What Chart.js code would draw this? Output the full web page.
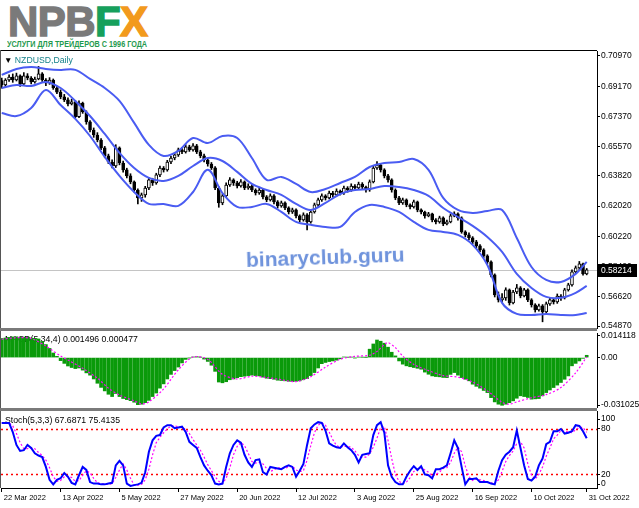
<!DOCTYPE html>
<html><head><meta charset="utf-8">
<script src="https://cdn.jsdelivr.net/npm/chart.js@4.4.0/dist/chart.umd.min.js"></script>
<style>
html,body{margin:0;padding:0;background:#fff;width:639px;height:508px;overflow:hidden;font-family:'Liberation Sans',Arial,sans-serif;}
.abs{position:absolute;white-space:nowrap;}
canvas{position:absolute;left:0;}
</style></head><body>
<div class="abs" style="left:8px;top:1px;font:bold 42px/42px 'Liberation Sans';letter-spacing:-0.6px;"><span style="color:#7a7a7a;-webkit-text-stroke:1.4px #7a7a7a">NPB</span><span style="color:#16a05c;-webkit-text-stroke:1.4px #16a05c">F</span><span style="color:#f29a1d;-webkit-text-stroke:1.4px #f29a1d">X</span></div>
<div class="abs" id="slogan" style="left:7px;top:40px;font:bold 9px/9px 'Liberation Sans';color:#1f9a4e;transform-origin:0 0;">УСЛУГИ ДЛЯ ТРЕЙДЕРОВ С 1996 ГОДА</div>
<canvas id="cMain" width="639" height="280" style="top:50px"></canvas>
<canvas id="cMacd" width="639" height="80" style="top:331px"></canvas>
<canvas id="cStoch" width="639" height="99" style="top:409px"></canvas>
<div class="abs" style="left:0;top:50px;width:597px;height:1px;background:#000"></div>
<div class="abs" style="left:0;top:50px;width:1px;height:438px;background:#555"></div>
<div class="abs" style="left:0;top:328px;width:597px;height:3px;background:#7a7a7a"></div>
<div class="abs" style="left:0;top:408px;width:597px;height:3px;background:#7a7a7a"></div>
<div class="abs" style="left:4px;top:56px;font:8.7px/8.7px 'Liberation Sans';color:#000;"><span style="font-size:8.5px">▼</span> <span style="color:#14808a">NZDUSD,Daily</span></div>
<div class="abs" style="left:246px;top:249px;font:bold 21px/21px 'Liberation Sans';color:#6f93dc;transform:rotate(-2deg);transform-origin:0 50%;">binaryclub.guru</div>
<script>
// ---------- data ----------
const opens = [
0.6950,0.6924,0.6954,0.6972,0.6954,0.6978,0.6930,0.6978,0.6966,0.6942,
0.6960,0.6990,0.6954,0.6936,0.6954,0.6906,0.6882,0.6853,0.6835,0.6811,
0.6823,0.6735,0.6817,0.6763,0.6704,0.6656,0.6626,0.6596,0.6549,0.6501,
0.6465,0.6441,0.6549,0.6459,0.6418,0.6382,0.6346,0.6298,0.6251,0.6269,
0.6310,0.6358,0.6340,0.6388,0.6429,0.6418,0.6465,0.6489,0.6507,0.6537,
0.6525,0.6555,0.6537,0.6561,0.6525,0.6501,0.6477,0.6453,0.6430,0.6310,
0.6221,0.6263,0.6328,0.6358,0.6340,0.6322,0.6346,0.6310,0.6322,0.6298,
0.6280,0.6298,0.6257,0.6239,0.6263,0.6227,0.6203,0.6221,0.6191,0.6167,
0.6179,0.6144,0.6120,0.6150,0.6108,0.6167,0.6209,0.6239,0.6263,0.6251,
0.6280,0.6269,0.6292,0.6280,0.6310,0.6298,0.6322,0.6310,0.6334,0.6316,
0.6298,0.6346,0.6429,0.6447,0.6418,0.6382,0.6358,0.6298,0.6251,0.6221,
0.6239,0.6209,0.6197,0.6227,0.6179,0.6167,0.6144,0.6156,0.6120,0.6108,
0.6132,0.6096,0.6108,0.6144,0.6156,0.6132,0.6048,0.6030,0.6013,0.5989,
0.5965,0.5941,0.5905,0.5869,0.5792,0.5673,0.5643,0.5655,0.5702,0.5625,
0.5690,0.5714,0.5666,0.5702,0.5643,0.5613,0.5583,0.5607,0.5571,0.5619,
0.5643,0.5631,0.5666,0.5655,0.5702,0.5732,0.5810,0.5834,0.5857,0.5798];
const highs = [
0.6965,0.6962,0.6985,0.6990,0.6995,0.6985,0.6998,0.6992,0.6975,0.6972,
0.7035,0.6998,0.6962,0.6968,0.6960,0.6918,0.6895,0.6868,0.6848,0.6840,
0.6832,0.6830,0.6822,0.6770,0.6712,0.6668,0.6640,0.6605,0.6558,0.6512,
0.6478,0.6568,0.6555,0.6470,0.6428,0.6395,0.6352,0.6305,0.6280,0.6320,
0.6372,0.6368,0.6398,0.6440,0.6438,0.6475,0.6498,0.6518,0.6548,0.6552,
0.6568,0.6565,0.6575,0.6570,0.6535,0.6512,0.6488,0.6462,0.6438,0.6318,
0.6275,0.6340,0.6372,0.6365,0.6350,0.6360,0.6352,0.6335,0.6330,0.6305,
0.6310,0.6302,0.6265,0.6275,0.6270,0.6235,0.6232,0.6228,0.6198,0.6190,
0.6185,0.6150,0.6162,0.6158,0.6175,0.6220,0.6250,0.6275,0.6270,0.6292,
0.6290,0.6305,0.6298,0.6322,0.6318,0.6335,0.6330,0.6345,0.6342,0.6322,
0.6358,0.6440,0.6468,0.6455,0.6425,0.6392,0.6365,0.6305,0.6260,0.6250,
0.6245,0.6215,0.6238,0.6232,0.6185,0.6172,0.6165,0.6160,0.6128,0.6142,
0.6138,0.6118,0.6155,0.6168,0.6162,0.6138,0.6055,0.6042,0.6020,0.5998,
0.5972,0.5948,0.5912,0.5875,0.5798,0.5690,0.5680,0.5715,0.5708,0.5700,
0.5735,0.5722,0.5712,0.5708,0.5650,0.5620,0.5618,0.5615,0.5630,0.5655,
0.5650,0.5678,0.5675,0.5712,0.5742,0.5822,0.5845,0.5872,0.5862,0.5830];
const lows = [
0.6905,0.6915,0.6945,0.6940,0.6948,0.6915,0.6922,0.6955,0.6930,0.6935,
0.6955,0.6945,0.6920,0.6928,0.6898,0.6872,0.6842,0.6825,0.6800,0.6805,
0.6728,0.6730,0.6755,0.6690,0.6645,0.6612,0.6585,0.6538,0.6490,0.6455,
0.6430,0.6432,0.6448,0.6405,0.6370,0.6335,0.6285,0.6215,0.6230,0.6255,
0.6300,0.6325,0.6332,0.6378,0.6405,0.6410,0.6455,0.6478,0.6498,0.6515,
0.6518,0.6528,0.6530,0.6515,0.6490,0.6465,0.6440,0.6420,0.6300,0.6195,
0.6210,0.6255,0.6320,0.6325,0.6310,0.6315,0.6300,0.6302,0.6288,0.6268,
0.6272,0.6245,0.6228,0.6232,0.6215,0.6190,0.6195,0.6180,0.6155,0.6158,
0.6132,0.6108,0.6112,0.6060,0.6100,0.6160,0.6200,0.6230,0.6238,0.6245,
0.6255,0.6262,0.6268,0.6272,0.6285,0.6290,0.6298,0.6302,0.6305,0.6285,
0.6290,0.6340,0.6420,0.6405,0.6370,0.6345,0.6285,0.6240,0.6210,0.6212,
0.6198,0.6185,0.6190,0.6168,0.6155,0.6130,0.6138,0.6108,0.6095,0.6100,
0.6085,0.6090,0.6102,0.6138,0.6118,0.6040,0.6018,0.6000,0.5978,0.5952,
0.5930,0.5895,0.5858,0.5780,0.5660,0.5630,0.5628,0.5640,0.5612,0.5618,
0.5680,0.5655,0.5660,0.5632,0.5600,0.5570,0.5575,0.5512,0.5560,0.5610,
0.5618,0.5622,0.5640,0.5648,0.5695,0.5725,0.5800,0.5820,0.5790,0.5792];
const closes = [
0.6924,0.6954,0.6972,0.6954,0.6978,0.6930,0.6978,0.6966,0.6942,0.6960,
0.6990,0.6954,0.6936,0.6954,0.6906,0.6882,0.6853,0.6835,0.6811,0.6823,
0.6735,0.6817,0.6763,0.6704,0.6656,0.6626,0.6596,0.6549,0.6501,0.6465,
0.6441,0.6549,0.6459,0.6418,0.6382,0.6346,0.6298,0.6251,0.6269,0.6310,
0.6358,0.6340,0.6388,0.6429,0.6418,0.6465,0.6489,0.6507,0.6537,0.6525,
0.6555,0.6537,0.6561,0.6525,0.6501,0.6477,0.6453,0.6430,0.6310,0.6221,
0.6263,0.6328,0.6358,0.6340,0.6322,0.6346,0.6310,0.6322,0.6298,0.6280,
0.6298,0.6257,0.6239,0.6263,0.6227,0.6203,0.6221,0.6191,0.6167,0.6179,
0.6144,0.6120,0.6150,0.6108,0.6167,0.6209,0.6239,0.6263,0.6251,0.6280,
0.6269,0.6292,0.6280,0.6310,0.6298,0.6322,0.6310,0.6334,0.6316,0.6298,
0.6346,0.6429,0.6447,0.6418,0.6382,0.6358,0.6298,0.6251,0.6221,0.6239,
0.6209,0.6197,0.6227,0.6179,0.6167,0.6144,0.6156,0.6120,0.6108,0.6132,
0.6096,0.6108,0.6144,0.6156,0.6132,0.6048,0.6030,0.6013,0.5989,0.5965,
0.5941,0.5905,0.5869,0.5792,0.5673,0.5643,0.5655,0.5702,0.5625,0.5690,
0.5714,0.5666,0.5702,0.5643,0.5613,0.5583,0.5607,0.5571,0.5619,0.5643,
0.5631,0.5666,0.5655,0.5702,0.5732,0.5810,0.5834,0.5857,0.5798,0.58214];

const bandIdx = [0,4,8,12,16,20,24,28,32,36,40,44,48,52,56,60,64,68,72,76,80,84,88,92,96,100,104,108,112,116,120,124,128,132,136,140,144,148,152,156,159];
const bbUpper = [0.6984,0.7020,0.7031,0.7020,0.7014,0.7014,0.6960,0.6906,0.6829,0.6698,0.6567,0.6501,0.6531,0.6608,0.6578,0.6620,0.6608,0.6489,0.6358,0.6376,0.6334,0.6286,0.6304,0.6340,0.6376,0.6435,0.6459,0.6465,0.6483,0.6418,0.6251,0.6179,0.6161,0.6173,0.6179,0.6012,0.5839,0.5762,0.5750,0.5798,0.5869];
const bbMiddle = [0.6906,0.6924,0.6918,0.6942,0.6906,0.6829,0.6739,0.6632,0.6519,0.6429,0.6370,0.6352,0.6382,0.6441,0.6489,0.6471,0.6406,0.6334,0.6298,0.6269,0.6215,0.6179,0.6221,0.6274,0.6298,0.6304,0.6322,0.6316,0.6298,0.6263,0.6191,0.6137,0.6084,0.6018,0.5929,0.5798,0.5714,0.5661,0.5655,0.5685,0.5726];
const bbLower = [0.6757,0.6739,0.6787,0.6894,0.6805,0.6722,0.6620,0.6495,0.6382,0.6286,0.6215,0.6215,0.6203,0.6286,0.6418,0.6280,0.6197,0.6197,0.6215,0.6167,0.6108,0.6090,0.6078,0.6078,0.6167,0.6209,0.6197,0.6167,0.6108,0.6060,0.6048,0.6030,0.5971,0.5851,0.5625,0.5559,0.5553,0.5559,0.5553,0.5553,0.5565];

const macdHist = [
0.0125,0.0128,0.0132,0.0135,0.0136,0.0132,0.0134,0.0133,0.0128,0.0126,
0.0122,0.0105,0.0085,0.0060,0.0030,0.0008,-0.0020,-0.0038,-0.0055,-0.0065,
-0.0072,-0.0068,-0.0082,-0.0100,-0.0115,-0.0140,-0.0168,-0.0195,-0.0218,-0.0240,
-0.0255,-0.0235,-0.0255,-0.0268,-0.0275,-0.0282,-0.0292,-0.0308,-0.0305,-0.0295,
-0.0280,-0.0255,-0.0232,-0.0200,-0.0172,-0.0140,-0.0110,-0.0085,-0.0062,-0.0035,
-0.0012,-0.0002,0.0004,0.0006,0.0002,-0.0010,-0.0025,-0.0050,-0.0090,-0.0160,
-0.0165,-0.0158,-0.0145,-0.0140,-0.0132,-0.0125,-0.0122,-0.0118,-0.0115,-0.0118,
-0.0120,-0.0128,-0.0135,-0.0138,-0.0142,-0.0148,-0.0150,-0.0152,-0.0155,-0.0157,
-0.0155,-0.0152,-0.0145,-0.0138,-0.0118,-0.0098,-0.0068,-0.0040,-0.0032,-0.0026,
-0.0022,-0.0017,-0.0008,0.0004,0.0002,0.0003,-0.0002,0.0003,0.0002,0.0001,
0.0055,0.0089,0.0115,0.0107,0.0094,0.0068,0.0035,0.0011,-0.0022,-0.0043,
-0.0054,-0.0060,-0.0065,-0.0070,-0.0076,-0.0095,-0.0109,-0.0120,-0.0124,-0.0126,
-0.0130,-0.0131,-0.0110,-0.0098,-0.0115,-0.0131,-0.0142,-0.0152,-0.0174,-0.0188,
-0.0200,-0.0215,-0.0229,-0.0262,-0.0290,-0.0305,-0.0312,-0.0305,-0.0295,-0.0283,
-0.0266,-0.0250,-0.0255,-0.0261,-0.0272,-0.0270,-0.0268,-0.0250,-0.0229,-0.0212,
-0.0196,-0.0180,-0.0163,-0.0142,-0.0120,-0.0054,-0.0038,-0.0022,-0.0005,0.0015];
const macdSigIdx = [0,4,8,12,16,18,22,26,29,32,36,38,40,44,48,52,56,60,64,68,72,76,80,84,88,92,96,100,102,104,105,107,109,112,116,120,124,128,132,136,138,140,144,148,152,156,159];
const macdSignal = [0.0120,0.0130,0.0125,0.0075,0.0010,-0.0016,-0.0070,-0.0135,-0.0200,-0.0245,-0.0283,-0.0303,-0.0290,-0.0205,-0.0080,0.0004,-0.0012,-0.0110,-0.0140,-0.0122,-0.0130,-0.0145,-0.0157,-0.0125,-0.0062,-0.0011,0.0008,0.0015,0.0040,0.0085,0.0098,0.0065,0.0010,-0.0045,-0.0085,-0.0118,-0.0128,-0.0160,-0.0218,-0.0293,-0.0305,-0.0290,-0.0263,-0.0242,-0.0196,-0.0100,0.0005];

const stochMain = [
88,88,88,76,59,51,52,59,55,48, 45,43,30,13,7,13,15,22,17,9,
7,19,30,26,10,8,8,7,7,8, 9,32,38,32,8,5,6,7,9,23,
50,65,71,72,82,85,85,81,82,83, 76,63,59,55,43,32,25,19,8,7,
8,30,48,59,65,62,46,36,30,39, 40,23,20,30,29,28,27,30,32,30,
17,25,34,59,81,86,89,88,78,61, 58,56,55,61,56,52,46,36,46,47,
48,72,85,89,75,32,17,10,7,7, 17,25,31,26,31,20,19,15,27,27,
29,32,48,65,55,30,7,14,14,15, 10,10,10,8,7,25,39,46,50,56,
78,55,32,14,12,17,32,41,60,63, 77,77,80,74,75,77,85,84,77,67.6871];
const stochSignal = [
88,88,88,84,74,62,54,54,55,54, 49,45,39,29,17,11,12,17,18,16,
11,12,19,25,22,15,9,8,7,7, 8,16,26,34,26,15,6,6,7,13,
27,46,62,69,75,80,84,84,83,82, 80,74,66,59,52,43,33,25,17,11,
8,15,29,46,57,62,58,48,37,35, 36,34,28,24,26,29,28,28,30,31,
26,24,25,39,58,75,85,88,85,76, 66,58,56,57,57,56,51,45,43,43,
47,56,68,82,83,65,41,20,11,8, 10,16,24,27,29,26,23,18,20,23,
28,29,36,48,56,50,31,17,12,14, 13,12,10,9,8,13,24,37,45,51,
61,63,55,34,19,14,20,30,44,55, 67,72,78,77,76,75,79,82,82,75.4135];

const priceTicks = [0.70970,0.69170,0.67370,0.65570,0.63820,0.62020,0.60220,0.58420,0.56620,0.54870];
const priceTickLabels = ['0.70970','0.69170','0.67370','0.65570','0.63820','0.62020','0.60220','0.58420','0.56620','0.54870'];
const macdTicks = [0.014118, 0, -0.031025];
const macdTickLabels = ['0.014118','0.00','-0.031025'];
const stochTicks = [100, 80, 20, 0];
const stochTickLabels = ['100','80','20','0'];
const stochLevels = [80, 20];
const dateTickBars = [0,16,32,48,64,80,96,112,128,144,159];
const dateTickLabels = ['22 Mar 2022','13 Apr 2022','5 May 2022','27 May 2022','20 Jun 2022','12 Jul 2022','3 Aug 2022','25 Aug 2022','16 Sep 2022','10 Oct 2022','31 Oct 2022'];
const lastPrice = 0.58214, lastPriceLabel = '0.58214';
const macdTitle = 'MACD(5,34,4) 0.001496 0.000477';
const stochTitle = 'Stoch(5,3,3) 67.6871 75.4135';

// ---------- layout / style ----------
const FONT = "'Liberation Sans', Arial, sans-serif";
Chart.defaults.font.family = FONT;
Chart.defaults.color = '#000';
const BAND = '#4a5cf2';
const X_MIN = -0.2, X_MAX = 161.8;

const sl = document.getElementById('slogan');
sl.style.transform = 'scaleX(' + (140 / sl.offsetWidth) + ')';

function yAxis(min, max, ticks, labels, clamp) {
  return {
    position: 'right', min, max,
    afterBuildTicks: s => { s.ticks = ticks.map(v => ({ value: v })); },
    afterFit: s => {
      s.width = 42; s.paddingTop = 0; s.paddingBottom = 0;
      if (clamp && !s._clp) {
        const orig = Object.getPrototypeOf(s).getPixelForTick;
        s.getPixelForTick = function (i) { const p = orig.call(this, i); return Math.min(Math.max(p, this.top + 8), this.bottom - 4); };
        s._clp = true;
      }
    },
    ticks: { autoSkip: false, padding: 1, font: { size: 8.5, family: FONT }, color: '#000', callback: (v, i) => labels[i] },
    grid: { drawOnChartArea: false, tickLength: 3, color: '#000' },
    border: { color: '#000', width: 1 }
  };
}
function xHidden() { return { type: 'linear', min: X_MIN, max: X_MAX, offset: false, display: false }; }
const common = { animation: false, responsive: false, events: [], plugins: { legend: { display: false }, tooltip: { enabled: false } } };

const titlePlugin = (text, y) => ({
  id: 't' + y,
  beforeDatasetsDraw(chart) {
    const c = chart.ctx; c.save(); c.font = '8.7px ' + FONT; c.fillStyle = '#000'; c.textBaseline = 'middle';
    c.fillText(text, 5, y); c.restore();
  }
});

// main price chart
new Chart(document.getElementById('cMain'), {
  type: 'bar',
  data: { datasets: [
    { type: 'line', data: bandIdx.map((x, k) => ({ x, y: bbUpper[k] })), borderColor: BAND, borderWidth: 2, pointRadius: 0, tension: 0.35, order: 0 },
    { type: 'line', data: bandIdx.map((x, k) => ({ x, y: bbMiddle[k] })), borderColor: BAND, borderWidth: 2, pointRadius: 0, tension: 0.35, order: 0 },
    { type: 'line', data: bandIdx.map((x, k) => ({ x, y: bbLower[k] })), borderColor: BAND, borderWidth: 2, pointRadius: 0, tension: 0.35, order: 0 },
    { type: 'bar', data: closes.map((c, i) => ({ x: i, y: [opens[i], c] })), backgroundColor: closes.map((c, i) => c >= opens[i] ? '#ffffff' : '#000000'),
      borderColor: '#000', borderWidth: 1, borderSkipped: false, barThickness: 3, grouped: false, order: 1 },
    { type: 'bar', data: highs.map((h, i) => ({ x: i, y: [lows[i], h] })), backgroundColor: '#000', barThickness: 1, grouped: false, order: 2 }
  ]},
  options: { ...common,
    layout: { padding: { left: 1, top: 1, bottom: 2, right: 0 } },
    scales: { x: xHidden(), y: yAxis(0.54751, 0.71268, priceTicks, priceTickLabels) }
  },
  plugins: [{
    id: 'price',
    beforeDatasetsDraw(chart) {
      const a = chart.chartArea, y = Math.round(chart.scales.y.getPixelForValue(lastPrice)) + 0.5, c = chart.ctx;
      c.save(); c.strokeStyle = '#c4c4c4'; c.lineWidth = 1; c.beginPath(); c.moveTo(a.left, y); c.lineTo(a.right, y); c.stroke(); c.restore();
    },
    afterDraw(chart) {
      const a = chart.chartArea, y = Math.round(chart.scales.y.getPixelForValue(lastPrice)), c = chart.ctx;
      c.save(); c.fillStyle = '#000'; c.fillRect(a.right + 1, y - 6, 39, 13);
      c.fillStyle = '#fff'; c.font = '8.5px ' + FONT; c.textBaseline = 'middle'; c.fillText(lastPriceLabel, a.right + 4, y + 0.5); c.restore();
    }
  }]
});

// MACD
new Chart(document.getElementById('cMacd'), {
  type: 'bar',
  data: { datasets: [
    { type: 'line', data: macdSigIdx.map((x, k) => ({ x, y: macdSignal[k] })), borderColor: '#ff00ff', borderWidth: 1.2, borderDash: [2, 2], pointRadius: 0, tension: 0.3, order: 0 },
    { type: 'bar', data: macdHist.map((v, i) => ({ x: i, y: v })), backgroundColor: '#0a9a0a', barThickness: 3, grouped: false, order: 1 }
  ]},
  options: { ...common,
    layout: { padding: { left: 1, top: 2, bottom: 4, right: 0 } },
    scales: { x: xHidden(), y: yAxis(-0.03233, 0.01608, macdTicks, macdTickLabels) }
  },
  plugins: [titlePlugin(macdTitle, 8.5)]
});

// Stochastic
new Chart(document.getElementById('cStoch'), {
  type: 'line',
  data: { datasets: [
    { data: stochMain.map((v, i) => ({ x: i, y: v })), borderColor: '#0000ff', borderWidth: 2, pointRadius: 0, tension: 0, order: 0 },
    { data: stochSignal.map((v, i) => ({ x: i, y: v })), borderColor: '#ff00ff', borderWidth: 1.2, borderDash: [2, 2], pointRadius: 0, tension: 0, order: 1 }
  ]},
  options: { ...common,
    layout: { padding: { left: 1, top: 2, bottom: 0, right: 0 } },
    scales: {
      x: { type: 'linear', min: X_MIN, max: X_MAX, offset: false, position: 'bottom',
        afterBuildTicks: s => { s.ticks = dateTickBars.map(v => ({ value: v })); },
        afterFit: s => { s.height = 20; s.paddingLeft = 0; s.paddingRight = 0; },
        ticks: { autoSkip: false, maxRotation: 0, minRotation: 0, align: 'start', padding: 1, labelOffset: 2, font: { size: 7.5, family: FONT }, color: '#000', callback: (v, i) => dateTickLabels[i] },
        grid: { drawOnChartArea: false, tickLength: 4, color: '#000' },
        border: { color: '#000', width: 1 } },
      y: yAxis(2.2, 103.7, stochTicks, stochTickLabels, true)
    }
  },
  plugins: [titlePlugin(stochTitle, 12), {
    id: 'levels',
    beforeDatasetsDraw(chart) {
      const a = chart.chartArea, c = chart.ctx;
      c.save(); c.strokeStyle = '#ff0000'; c.lineWidth = 1.5; c.setLineDash([2, 3]);
      stochLevels.forEach(l => { const y = Math.round(chart.scales.y.getPixelForValue(l)) + 0.5; c.beginPath(); c.moveTo(a.left, y); c.lineTo(a.right, y); c.stroke(); });
      c.restore();
    }
  }]
});
</script>
</body></html>
